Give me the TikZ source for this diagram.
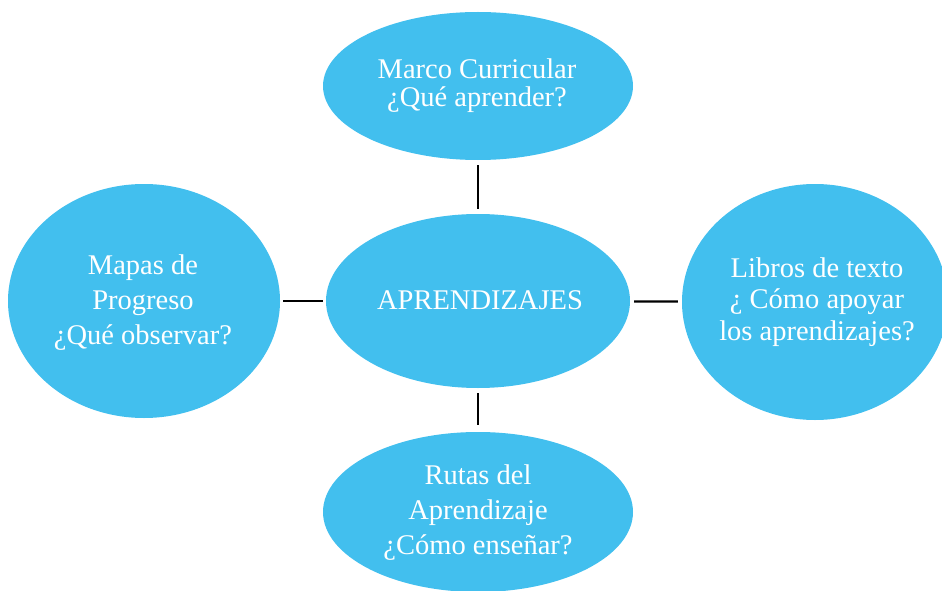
\documentclass[tikz,border=0pt]{standalone}
\usepackage{fontspec}
\setmainfont{Liberation Serif}
\usepackage{tikz}
\usetikzlibrary{shapes.geometric}
\definecolor{celeste}{RGB}{66,191,238}
\tikzset{
	bubble/.style={ellipse, fill=celeste, draw=none, inner sep=0pt},
	txt/.style={text=white, align=center, inner sep=0pt},
	link/.style={line width=2.2pt, shorten >=5pt, shorten <=5pt}
}

\begin{document}
\begin{tikzpicture}[x=1pt,y=-1pt]
	\useasboundingbox (0,0) rectangle (942,591);
	\node[bubble, minimum width=310pt, minimum height=148pt](marco) at (478,86){};
	\node[bubble, minimum width=304pt, minimum height=174pt](apren) at (478,301){};
	\node[bubble, minimum width=272pt, minimum height=234pt](mapas) at (144,301){};
	\node[bubble, minimum width=266pt, minimum height=236pt](libros) at (815,302){};
	\node[bubble, minimum width=310pt, minimum height=160pt](rutas) at (478,512){};
	\node[txt, font=\fontsize{28.5}{28}\selectfont](marcot) at (477,86){Marco Curricular\\¿Qué aprender?};
	\node[txt, font=\fontsize{28.5}{32}\selectfont](aprent) at (480,300){APRENDIZAJES};
	\node[txt, font=\fontsize{28.5}{35}\selectfont](mapast) at (143,303){Mapas de\\Progreso\\¿Qué observar?};
	\node[txt, font=\fontsize{28.5}{31.5}\selectfont](librost) at (817,302){Libros de texto\\¿ Cómo apoyar\\los aprendizajes?};
	\node[txt, font=\fontsize{28.5}{35}\selectfont](rutast) at (478,513){Rutas del\\Aprendizaje\\¿Cómo enseñar?};
	\draw [link](marco)--(apren);
	\draw [link, shorten >=3pt, shorten <=3pt](mapas)--(apren);
	\draw [link, shorten >=4pt, shorten <=4pt](apren)--(libros);
	\draw [link, shorten <=5pt, shorten >=7pt](apren)--(rutas);
\end{tikzpicture}
\end{document}
